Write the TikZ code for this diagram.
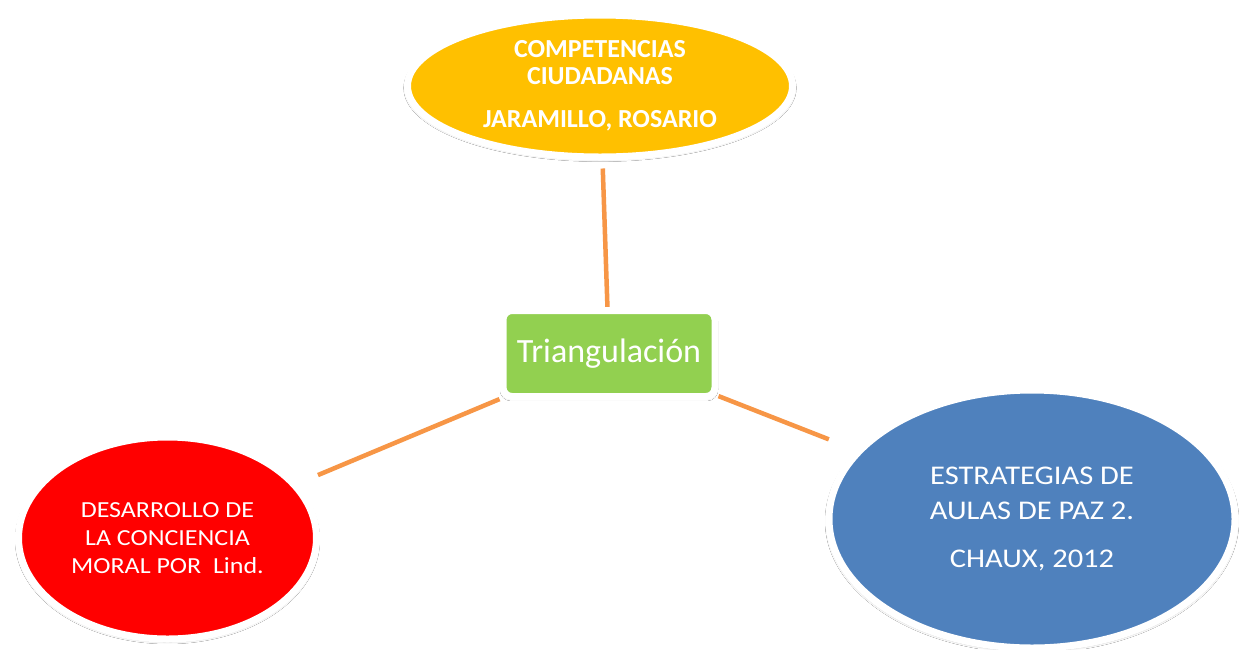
\documentclass[tikz,border=0pt]{standalone}
\usepackage{fontspec}
\setmainfont{Carlito}
\newfontfamily\widefont{Carlito}[FakeStretch=1.13]
\usepackage{tikz}
\usetikzlibrary{shapes,backgrounds,shadows.blur,positioning}
\definecolor{compyellow}{HTML}{FFC000}
\definecolor{hubgreen}{HTML}{92D050}
\definecolor{moralred}{HTML}{FF0000}
\definecolor{aulasblue}{HTML}{4F81BD}
\definecolor{linkorange}{HTML}{F79646}
\tikzstyle{oval}=[ellipse, draw=white, line width=7pt, text=white, align=center, inner sep=0pt,
  blur shadow={shadow xshift=0pt, shadow yshift=-2pt, shadow scale=1.01, shadow opacity=20, shadow blur steps=6}]
\tikzstyle{hub}=[rectangle, rounded corners=9pt, draw=white, line width=7pt, text=white, inner sep=0pt,
  blur shadow={shadow xshift=0pt, shadow yshift=-2pt, shadow scale=1.01, shadow opacity=20, shadow blur steps=6}]
\tikzstyle{link}=[draw=linkorange, line width=4.5pt]
\begin{document}
\begin{tikzpicture}[x=1pt,y=-1pt]
          \useasboundingbox (0,0) rectangle (1239,649);
          % 
          \node at (600,86) [oval, fill=compyellow, minimum width=385pt, minimum height=142pt,
                font=\fontsize{26}{27}\selectfont\bfseries] (comp)
                {COMPETENCIAS\\CIUDADANAS\\[16pt]JARAMILLO, ROSARIO};
          \node at (609,353.5) [hub, fill=hubgreen, minimum width=212pt, minimum height=86pt,
                font=\fontsize{34}{40}\selectfont] (tri) {Triangulación};
          \node at (167.5,538) [oval, fill=moralred, minimum width=298pt, minimum height=202pt,
                font=\widefont\fontsize{23}{28.3}\selectfont] (moral)
                {DESARROLLO DE\\LA CONCIENCIA\\MORAL POR\ \ Lind.};
          \node at (1032,519) [oval, fill=aulasblue, minimum width=406pt, minimum height=258pt,
                font=\widefont\fontsize{27}{35}\selectfont] (aulas)
                {ESTRATEGIAS DE\\AULAS DE PAZ 2.\\[13pt]CHAUX, 2012};
          % 
          \begin{pgfonlayer}{background}
            \fill[white] (0,0) rectangle (1239,649);
            \draw[link, shorten <=8pt] (comp) -- (tri);
            \draw[link, shorten <=22pt] (moral) -- (tri);
            \draw[link, shorten <=29pt] (aulas) -- (tri);
          \end{pgfonlayer}
        \end{tikzpicture}
\end{document}
